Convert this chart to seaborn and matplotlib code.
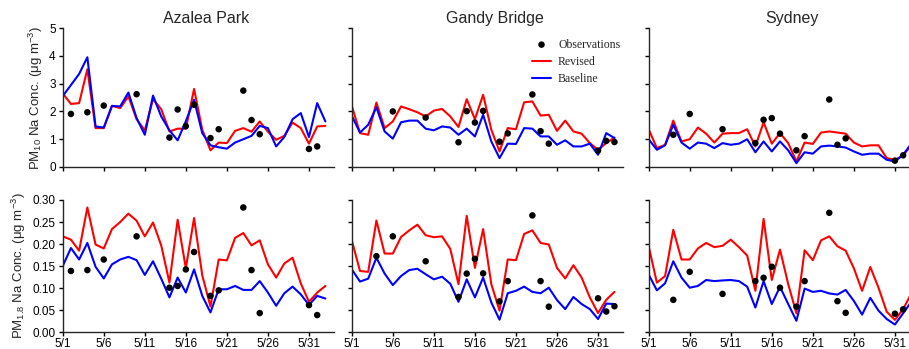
import matplotlib
matplotlib.use("Agg")
import matplotlib.pyplot as plt
import numpy as np
import pandas as pd
import seaborn as sns

# day of May (32 = 6/1, 33 = 6/2)
days = list(range(1, 34))
xticks = [1, 6, 11, 16, 21, 26, 31]
xticklabels = ["5/1", "5/6", "5/11", "5/16", "5/21", "5/26", "5/31"]
sites = ["Azalea Park", "Gandy Bridge", "Sydney"]

# ---- PM10 ----
azalea_pm10_rev = [2.65, 2.27, 2.3, 3.52, 1.4, 1.4, 2.2, 2.12, 2.54, 1.72, 1.32, 2.44, 2.08, 1.28, 1.38,
                   1.38, 2.81, 1.34, 0.6, 0.88, 0.86, 1.3, 1.4, 1.27, 1.64, 1.27, 0.98, 1.12, 1.6, 1.4,
                   0.84, 1.46, 1.48]
azalea_pm10_base = [2.55, 2.95, 3.35, 3.95, 1.46, 1.42, 2.2, 2.18, 2.68, 1.76, 1.16, 2.57, 1.82, 1.32, 0.96,
                    1.65, 2.42, 1.22, 0.78, 0.71, 0.66, 0.88, 1.0, 1.12, 1.48, 1.4, 0.74, 1.08, 1.72, 1.94,
                    1.08, 2.3, 1.64]
azalea_pm10_obs_days = [2, 4, 6, 10, 14, 15, 16, 17, 19, 20, 23, 24, 25, 31, 32]
azalea_pm10_obs = [1.91, 1.97, 2.21, 2.62, 1.06, 2.07, 1.47, 2.24, 1.04, 1.36, 2.75, 1.69, 1.18, 0.65, 0.74]

gandy_pm10_rev = [2.2, 1.22, 1.16, 2.32, 1.4, 1.64, 2.18, 2.08, 1.97, 1.82, 2.03, 2.09, 1.82, 1.44, 2.44,
                  1.72, 2.6, 1.34, 0.56, 1.4, 1.36, 2.33, 2.36, 1.85, 1.88, 1.3, 1.67, 1.28, 1.2, 0.86,
                  0.62, 0.86, 1.06]
gandy_pm10_base = [1.84, 1.24, 1.52, 2.15, 1.28, 1.02, 1.61, 1.67, 1.67, 1.38, 1.32, 1.46, 1.42, 1.16, 1.38,
                   1.1, 1.88, 0.92, 0.32, 0.84, 0.83, 1.4, 1.38, 1.1, 1.1, 0.8, 0.96, 0.74, 0.74, 0.84,
                   0.44, 1.22, 1.04]
gandy_pm10_obs_days = [6, 10, 14, 15, 16, 17, 19, 20, 23, 24, 25, 31, 32, 33]
gandy_pm10_obs = [2.0, 1.78, 0.89, 2.01, 1.6, 2.02, 0.91, 1.21, 2.61, 1.29, 0.84, 0.59, 0.94, 0.9]

sydney_pm10_rev = [1.36, 0.68, 0.8, 1.67, 0.92, 1.0, 1.42, 1.2, 0.88, 1.2, 1.22, 1.22, 1.36, 0.74, 1.61,
                   0.84, 1.22, 0.86, 0.2, 0.88, 0.83, 1.24, 1.28, 1.24, 1.2, 0.88, 0.74, 0.78, 0.78, 0.32,
                   0.26, 0.41, 0.8]
sydney_pm10_base = [1.0, 0.62, 0.78, 1.52, 0.88, 0.66, 0.88, 0.84, 0.68, 0.86, 0.8, 0.84, 1.0, 0.53, 0.92,
                    0.56, 0.92, 0.6, 0.14, 0.53, 0.48, 0.74, 0.77, 0.74, 0.7, 0.56, 0.44, 0.48, 0.48, 0.26,
                    0.2, 0.44, 0.84]
sydney_pm10_obs_days = [4, 6, 10, 14, 15, 16, 17, 19, 20, 23, 24, 25, 31, 32]
sydney_pm10_obs = [1.16, 1.91, 1.36, 0.86, 1.7, 1.76, 1.2, 0.6, 1.11, 2.43, 0.8, 1.03, 0.23, 0.42]

# ---- PM1.8 ----
azalea_pm18_rev = [0.2175, 0.21, 0.185, 0.283, 0.199, 0.19, 0.234, 0.25, 0.269, 0.253, 0.2175, 0.249, 0.197,
                   0.1125, 0.255, 0.145, 0.259, 0.129, 0.0585, 0.165, 0.163, 0.214, 0.225, 0.197, 0.2085,
                   0.154, 0.124, 0.156, 0.169, 0.111, 0.069, 0.09, 0.105]
azalea_pm18_base = [0.15, 0.191, 0.165, 0.2025, 0.1485, 0.122, 0.154, 0.165, 0.171, 0.1635, 0.13, 0.161,
                    0.1215, 0.079, 0.124, 0.09, 0.1425, 0.0825, 0.045, 0.0975, 0.0975, 0.105, 0.096, 0.096,
                    0.116, 0.09, 0.06, 0.0885, 0.1035, 0.086, 0.062, 0.0825, 0.0765]
azalea_pm18_obs_days = [2, 4, 6, 10, 14, 15, 16, 17, 19, 20, 23, 24, 25, 31, 32]
azalea_pm18_obs = [0.139, 0.141, 0.165, 0.2175, 0.101, 0.105, 0.1425, 0.182, 0.0825, 0.095, 0.283, 0.141,
                   0.0435, 0.0615, 0.039]

gandy_pm18_rev = [0.2085, 0.139, 0.137, 0.2535, 0.1785, 0.1785, 0.216, 0.231, 0.244, 0.22, 0.2155, 0.2175,
                  0.189, 0.109, 0.264, 0.146, 0.234, 0.109, 0.049, 0.165, 0.1635, 0.223, 0.231, 0.2025,
                  0.199, 0.146, 0.122, 0.152, 0.124, 0.079, 0.0435, 0.0735, 0.0915]
gandy_pm18_base = [0.1425, 0.115, 0.1215, 0.169, 0.133, 0.107, 0.1275, 0.141, 0.144, 0.1315, 0.12, 0.126,
                   0.11, 0.069, 0.12, 0.079, 0.124, 0.0675, 0.0285, 0.0885, 0.094, 0.1035, 0.0915, 0.0885,
                   0.101, 0.073, 0.0525, 0.08, 0.064, 0.0525, 0.03, 0.065, 0.064]
gandy_pm18_obs_days = [4, 6, 10, 14, 15, 16, 17, 19, 20, 23, 24, 25, 31, 32, 33]
gandy_pm18_obs = [0.1725, 0.2175, 0.161, 0.08, 0.133, 0.1665, 0.1335, 0.07, 0.116, 0.265, 0.116, 0.058,
                  0.077, 0.047, 0.059]

sydney_pm18_rev = [0.195, 0.1125, 0.1275, 0.2325, 0.165, 0.165, 0.19, 0.2025, 0.193, 0.196, 0.21, 0.193,
                   0.174, 0.094, 0.257, 0.1185, 0.1875, 0.109, 0.043, 0.186, 0.1635, 0.2085, 0.2175, 0.195,
                   0.185, 0.145, 0.094, 0.148, 0.101, 0.0465, 0.028, 0.0525, 0.088]
sydney_pm18_base = [0.131, 0.095, 0.111, 0.161, 0.124, 0.101, 0.105, 0.1185, 0.116, 0.1175, 0.1185, 0.116,
                    0.1035, 0.056, 0.116, 0.064, 0.103, 0.064, 0.026, 0.099, 0.0915, 0.094, 0.088, 0.0855,
                    0.096, 0.071, 0.04, 0.078, 0.049, 0.03, 0.0175, 0.043, 0.069]
sydney_pm18_obs_days = [4, 6, 10, 14, 15, 16, 17, 19, 20, 23, 24, 25, 31, 32]
sydney_pm18_obs = [0.0735, 0.137, 0.087, 0.116, 0.1235, 0.1485, 0.101, 0.058, 0.116, 0.271, 0.0705, 0.044,
                   0.042, 0.052]

rows = [
    [(azalea_pm10_rev, azalea_pm10_base, azalea_pm10_obs_days, azalea_pm10_obs),
     (gandy_pm10_rev, gandy_pm10_base, gandy_pm10_obs_days, gandy_pm10_obs),
     (sydney_pm10_rev, sydney_pm10_base, sydney_pm10_obs_days, sydney_pm10_obs)],
    [(azalea_pm18_rev, azalea_pm18_base, azalea_pm18_obs_days, azalea_pm18_obs),
     (gandy_pm18_rev, gandy_pm18_base, gandy_pm18_obs_days, gandy_pm18_obs),
     (sydney_pm18_rev, sydney_pm18_base, sydney_pm18_obs_days, sydney_pm18_obs)],
]

sns.set_style("ticks")
plt.rcParams["font.family"] = ["Liberation Sans", "DejaVu Sans"]
plt.rcParams["mathtext.fontset"] = "custom"
plt.rcParams["mathtext.rm"] = "Liberation Sans"
plt.rcParams["axes.linewidth"] = 1.0

fig = plt.figure(figsize=(9.09, 3.49), dpi=100)
lefts = [0.069, 0.387, 0.7136]
width = 0.298
row_boxes = [(0.5215, 0.398), (0.048, 0.379)]

for r, row in enumerate(rows):
    bottom, height = row_boxes[r]
    for c, (rev, base, obs_days, obs) in enumerate(row):
        ax = fig.add_axes([lefts[c], bottom, width, height])
        df = pd.DataFrame({"day": days, "Revised": rev, "Baseline": base})
        sns.lineplot(data=df, x="day", y="Revised", color="#ff0000", lw=1.5, ax=ax, label="Revised")
        sns.lineplot(data=df, x="day", y="Baseline", color="#0000ff", lw=1.5, ax=ax, label="Baseline")
        obs_df = pd.DataFrame({"day": obs_days, "obs": obs})
        sns.scatterplot(data=obs_df, x="day", y="obs", color="black", s=22, edgecolor="none",
                        ax=ax, label="Observations", zorder=5)
        ax.set_xlim(1, 34)
        ax.set_xticks(xticks)
        ax.set_xlabel("")
        ax.set_ylabel("")
        sns.despine(ax=ax)
        ax.tick_params(colors="black", labelsize=8.5, length=3, width=1)
        ax.tick_params(axis="x", pad=1)
        ax.tick_params(axis="y", pad=2)
        if r == 0:
            ax.set_ylim(0, 5)
            ax.set_yticks([0, 1, 2, 3, 4, 5])
            ax.set_xticklabels([])
            ax.set_title(sites[c], fontsize=11.5, pad=4, x=0.53)
        else:
            ax.set_ylim(0, 0.30)
            ax.set_yticks(np.arange(0, 0.31, 0.05))
            ax.set_yticklabels([f"{v:.2f}" for v in np.arange(0, 0.31, 0.05)])
            ax.set_xticklabels(xticklabels)
        if c > 0:
            ax.set_yticklabels([])
        else:
            if r == 0:
                ax.set_ylabel("PM$_{10}$ Na Conc. (μg m$^{-3}$)", fontsize=9.5, labelpad=3)
            else:
                ax.set_ylabel("PM$_{1.8}$ Na Conc. (μg m$^{-3}$)", fontsize=9.5, labelpad=3)
        if r == 0 and c == 1:
            h, l = ax.get_legend_handles_labels()
            order = [l.index("Observations"), l.index("Revised"), l.index("Baseline")]
            ax.legend([h[i] for i in order], [l[i] for i in order], loc="upper right",
                      bbox_to_anchor=(1.03, 1.0), frameon=False,
                      prop={"family": "Liberation Serif", "size": 8.5},
                      handlelength=1.6, labelspacing=0.45, handletextpad=0.6)
        else:
            ax.get_legend().remove()

fig.savefig("out.png", dpi=100)
